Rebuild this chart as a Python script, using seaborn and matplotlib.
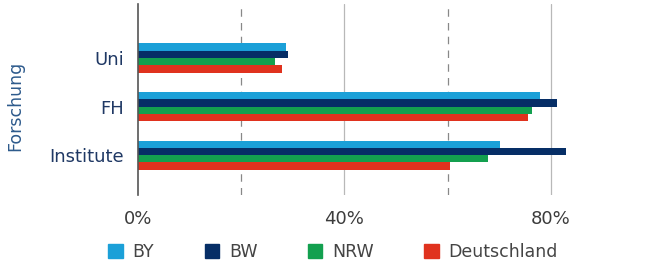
import numpy as np
import pandas as pd
import matplotlib
matplotlib.use("Agg")
import matplotlib.pyplot as plt
import seaborn as sns

# data
kategorien = ["Uni", "FH", "Institute"]
regionen = ["BY", "BW", "NRW", "Deutschland"]
by = [28.7, 77.9, 70.1]
bw = [29.0, 81.2, 82.9]
nrw = [26.6, 76.4, 67.8]
deutschland = [28.0, 75.5, 60.4]
farben = ["#1ba0d8", "#062e66", "#13a04f", "#e0321e"]

df = pd.DataFrame({"Forschung": kategorien * 4,
                   "Region": [r for r in regionen for _ in kategorien],
                   "Wert": by + bw + nrw + deutschland})

sns.set_style("white")
plt.rcParams['font.family'] = ['DejaVu Sans']

fig = plt.figure(figsize=(6.54, 2.62), dpi=100)
ax = fig.add_axes([138/654, 1 - 195/262, 1 - 138/654, 191/262])

sns.barplot(data=df, y="Forschung", x="Wert", hue="Region", order=kategorien,
            hue_order=regionen, palette=farben, orient="h", width=0.6,
            saturation=1, linewidth=0, legend=False, ax=ax)

ax.set_xlim(0, 100)
ax.set_ylim(2.82, -1.11)
for x, ls, c in [(20, (0, (6, 5)), "#888888"), (40, "-", "#b8b8b8"),
                 (60, (0, (6, 5)), "#888888"), (80, "-", "#b8b8b8")]:
    ax.axvline(x, color=c, lw=0.9, ls=ls, zorder=0)

ax.set_xticks([0, 40, 80])
ax.set_xticklabels(["0%", "40%", "80%"], color="#3c3c3c", fontsize=13)
ax.tick_params(axis="x", length=0, pad=11)
ax.tick_params(axis="y", length=0, pad=10, labelsize=13, labelcolor="#1f3864")
ax.set_xlabel("")
ax.set_ylabel("Forschung", color="#2d5a8c", fontsize=12.5)
ax.yaxis.set_label_coords(-0.221, 0.466)

for s in ["top", "right", "bottom"]:
    ax.spines[s].set_visible(False)
ax.spines["left"].set_color("#555555")
ax.spines["left"].set_linewidth(1.2)

handles = [plt.Rectangle((0, 0), 1, 1, color=c) for c in farben]
fig.legend(handles, regionen, loc="center", bbox_to_anchor=(333/654, 1 - 252/262),
           ncol=4, frameon=False, fontsize=12.5, handlelength=0.85, handleheight=0.85,
           columnspacing=2.9, handletextpad=0.55, labelcolor="#444444",
           borderpad=0, borderaxespad=0)

fig.savefig("out.png", dpi=100)
